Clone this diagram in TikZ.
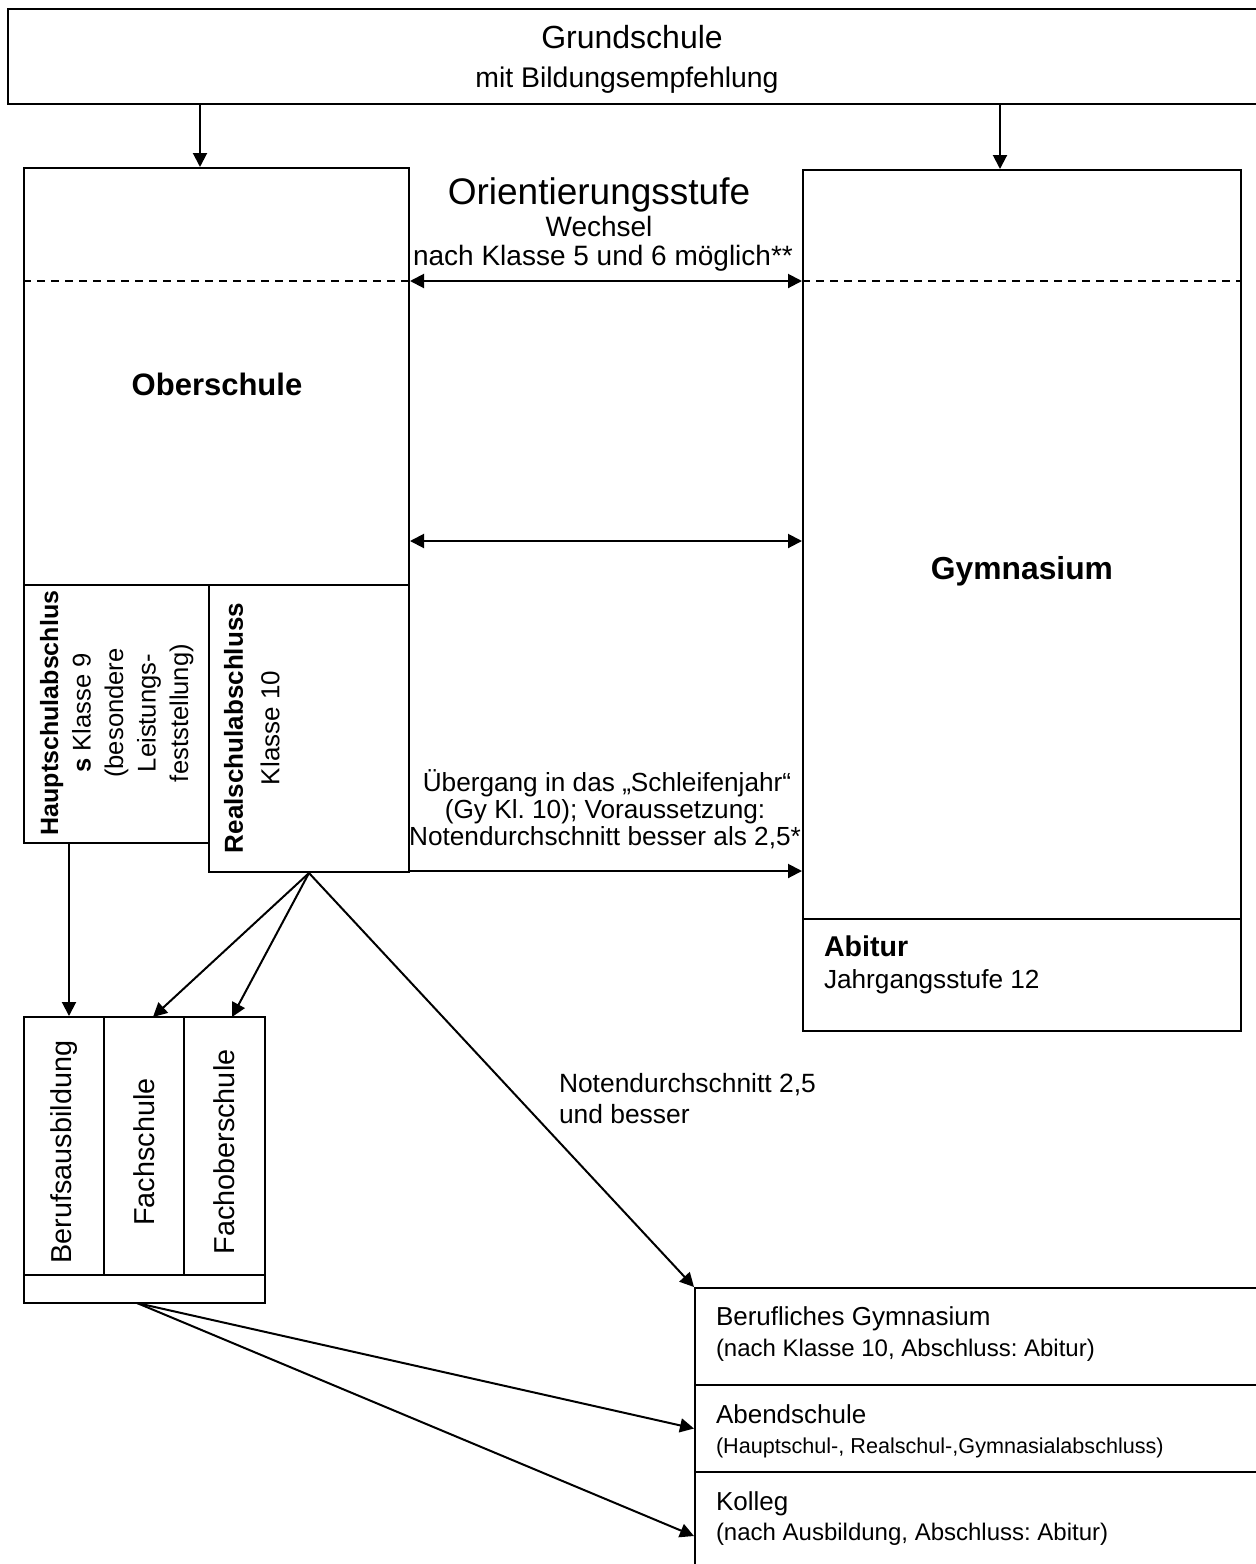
\documentclass[tikz,border=0pt]{standalone}
\usepackage{fontspec}
\setmainfont{Liberation Sans}
\usetikzlibrary{arrows.meta,fit}
\newcommand\fsz[2]{\fontsize{#1pt}{#2pt}\selectfont}
\begin{document}
\frenchspacing
\begin{tikzpicture}[x=0.5pt,y=-0.5pt,line width=1pt,
 schoolbox/.style={draw,inner sep=0pt},
 lb/.style={inner sep=0pt,anchor=base},
 lbw/.style={inner sep=0pt,anchor=base west},
 arrowto/.style={-{Triangle[length=7pt,width=7pt]}},
 arrowboth/.style={{Triangle[length=7pt,width=7pt]}-{Triangle[length=7pt,width=7pt]}},
 sepline/.style={dash pattern=on 4pt off 3pt},
 vtext/.style={rotate=90,inner sep=0pt,align=center}]
\useasboundingbox (0,0) rectangle (1255,1564);
% helper coordinates
\coordinate (c200) at (200,0);
\coordinate (c1000) at (1000,0);
\coordinate (c69) at (69,0);
\coordinate (r281) at (0,281);
\coordinate (r541) at (0,541);
\coordinate (r871) at (0,871);
\coordinate (r919) at (0,919);
\coordinate (r1152) at (0,1152);
\coordinate (fachtip) at (153,1017);
\coordinate (fobtip) at (232,1017);
\coordinate (blstart) at (137,1303);
% boxes
\node[schoolbox,fit={(8,9) (1290,104)}] (grund) {};
\node[schoolbox,fit={(24,168) (409,585)}] (ober) {};
\node[schoolbox,fit={(803,170) (1241,1031)}] (gym) {};
\node[schoolbox,fit={(24,585) (209,843)}] (haupt) {};
\node[schoolbox,fit={(209,585) (409,872)}] (real) {};
\node[schoolbox,fit={(24,1017) (104,1275)}] (beruf) {};
\node[schoolbox,fit={(104,1017) (184,1275)}] (fach) {};
\node[schoolbox,fit={(184,1017) (265,1275)}] (fob) {};
\node[schoolbox,fit={(24,1275) (265,1303)}] (bls) {};
\node[schoolbox,fit={(695,1288) (1290,1385)}] (berg) {};
\node[schoolbox,fit={(695,1385) (1290,1472)}] (abend) {};
\node[schoolbox,fit={(695,1472) (1290,1600)}] (kolleg) {};
% separators
\draw[sepline] (ober.west |- r281) -- (ober.east |- r281);
\draw[sepline] (gym.west |- r281) -- (gym.east |- r281);
\draw (gym.west |- r919) -- (gym.east |- r919);
% texts
\node[lb,font=\fsz{16}{19}] (t1) at (632,48) {Grundschule};
\node[lb,font=\fsz{14.2}{17}] (t2) at (627,87) {mit Bildungsempfehlung};
\node[lb,font=\fsz{18.5}{21}] (t3) at (599,204) {Orientierungsstufe};
\node[lb,font=\fsz{14}{16}] (t4) at (599,236) {Wechsel};
\node[lb,font=\fsz{14}{16}] (t5) at (603,265) {nach Klasse 5 und 6 möglich**};
\node[lb,font=\bfseries\fsz{15.5}{18}] (t6) at (217,395) {Oberschule};
\node[lb,font=\bfseries\fsz{15.9}{18}] (t7) at (1022,579) {Gymnasium};
\node[lbw,font=\bfseries\fsz{14.3}{17}] (t8) at (823,956) {Abitur};
\node[lbw,font=\fsz{13.1}{15}] (t9) at (823,988) {Jahrgangsstufe 12};
\node[lb,font=\fsz{13.1}{15}] (t10) at (607,791) {Übergang in das „Schleifenjahr“};
\node[lb,font=\fsz{13.1}{15}] (t11) at (605,818) {(Gy Kl. 10); Voraussetzung:};
\node[lb,font=\fsz{13.1}{15}] (t12) at (605,845) {Notendurchschnitt besser als 2,5*};
\node[lbw,font=\fsz{13.2}{15}] (t13) at (558,1092) {Notendurchschnitt 2,5};
\node[lbw,font=\fsz{13.2}{15}] (t14) at (558,1123) {und besser};
\node[lbw,font=\fsz{13}{15}] (t15) at (715,1325) {Berufliches Gymnasium};
\node[lbw,font=\fsz{12}{14}] (t16) at (715,1356) {(nach Klasse 10, Abschluss: Abitur)};
\node[lbw,font=\fsz{13}{15}] (t17) at (715,1423) {Abendschule};
\node[lbw,font=\fsz{10.8}{13}] (t18) at (715,1453) {(Hauptschul-, Realschul-,Gymnasialabschluss)};
\node[lbw,font=\fsz{13}{15}] (t19) at (715,1510) {Kolleg};
\node[lbw,font=\fsz{12}{14}] (t20) at (715,1540) {(nach Ausbildung, Abschluss: Abitur)};
% rotated texts
\node[vtext,anchor=north,font=\fsz{12.8}{16.25}] (t21) at (39,713)
  {\textbf{\fsz{12.5}{16.25}Hauptschulabschlus}\\\textbf{s} Klasse 9\\(besondere\\Leistungs-\\feststellung)};
\node[vtext,anchor=north,font=\fsz{13}{18.3}] (t22) at (223,728)
  {\textbf{Realschulabschluss}\\Klasse 10};
\node[vtext,font=\fsz{14.4}{16}] (t23) at (beruf.center |- r1152) {Berufsausbildung};
\node[vtext,font=\fsz{14.4}{16}] (t24) at (fach.center |- r1152) {Fachschule};
\node[vtext,font=\fsz{14.4}{16}] (t25) at (fob.center |- r1152) {Fachoberschule};
% connectors
\draw[arrowto] (grund.south -| c200) -- (ober.north -| c200);
\draw[arrowto] (grund.south -| c1000) -- (gym.north -| c1000);
\draw[arrowboth] (ober.east |- r281) -- (gym.west |- r281);
\draw[arrowboth] (ober.east |- r541) -- (gym.west |- r541);
\draw[arrowto] (real.east |- r871) -- (gym.west |- r871);
\draw[arrowto] (haupt.south -| c69) -- (beruf.north -| c69);
\draw[arrowto] (real.south) -- (fachtip);
\draw[arrowto] (real.south) -- (fobtip);
\draw[arrowto] (real.south) -- (berg.north west);
\draw[arrowto] (blstart) -- (abend.west);
\draw[arrowto] (blstart) -- (kolleg.west);
\end{tikzpicture}
\end{document}
